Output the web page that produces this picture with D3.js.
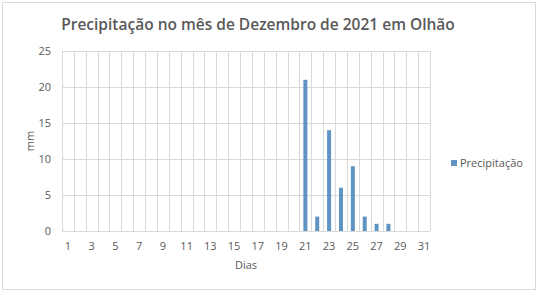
<!DOCTYPE html>
<html>
<head>
<meta charset="utf-8">
<script src="https://cdn.jsdelivr.net/npm/d3@7"></script>
<style>
  body { margin: 0; background: #fff; }
  text { font-family: "Open Sans", "Liberation Sans", sans-serif; fill: #595959; }
</style>
</head>
<body>
<div id="chart"></div>
<script>
// days of December and rainfall in mm
let days = d3.range(1, 32);
let rain = [0, 0, 0, 0, 0, 0, 0, 0, 0, 0, 0, 0, 0, 0, 0, 0, 0, 0, 0, 0,
            21, 2, 14, 6, 9, 2, 1, 1, 0, 0, 0];
let yTicks = [0, 5, 10, 15, 20, 25];
let seriesName = "Precipitação";

let width = 538;
let height = 293;
let plot = { left: 62, right: 430, top: 51, bottom: 231 };

let svg = d3.select("#chart")
  .append("svg")
  .attr("width", width)
  .attr("height", height);

// chart border
svg.append("rect")
  .attr("x", 2.5).attr("y", 2.5)
  .attr("width", 533).attr("height", 287)
  .attr("fill", "#fff")
  .attr("stroke", "#d9d9d9");

let xScale = d3.scaleBand()
  .domain(days)
  .range([plot.left, plot.right]);

let yScale = d3.scaleLinear()
  .domain([0, 25])
  .range([plot.bottom, plot.top]);

// horizontal gridlines
svg.append("g")
  .selectAll("line")
  .data(yTicks)
  .enter()
  .append("line")
  .attr("x1", plot.left).attr("x2", plot.right)
  .attr("y1", d => Math.round(yScale(d)) + 0.5)
  .attr("y2", d => Math.round(yScale(d)) + 0.5)
  .attr("stroke", "#d9d9d9");

// vertical gridlines at category boundaries
svg.append("g")
  .selectAll("line")
  .data(days.concat([32]))
  .enter()
  .append("line")
  .attr("x1", d => Math.round(d > 31 ? plot.right : xScale(d)) + 0.5)
  .attr("x2", d => Math.round(d > 31 ? plot.right : xScale(d)) + 0.5)
  .attr("y1", plot.top)
  .attr("y2", plot.bottom)
  .attr("stroke", "#d9d9d9");

// y tick labels
svg.append("g")
  .selectAll("text")
  .data(yTicks)
  .enter()
  .append("text")
  .attr("x", 51)
  .attr("y", d => yScale(d) + 4)
  .attr("text-anchor", "end")
  .attr("font-size", 11)
  .text(d => d);

// x tick labels, every other day
svg.append("g")
  .selectAll("text")
  .data(days.filter(d => d % 2 === 1))
  .enter()
  .append("text")
  .attr("x", d => xScale(d) + xScale.bandwidth() / 2)
  .attr("y", 250)
  .attr("text-anchor", "middle")
  .attr("font-size", 11)
  .text(d => d);

// bars
let barW = 4;
svg.append("g")
  .selectAll("rect")
  .data(rain)
  .enter()
  .append("rect")
  .attr("x", (d, i) => xScale(days[i]) + xScale.bandwidth() / 2 - barW / 2)
  .attr("y", d => yScale(d))
  .attr("width", barW)
  .attr("height", d => yScale(0) - yScale(d))
  .attr("fill", "#5f94c3");

// title
svg.append("text")
  .attr("x", 258)
  .attr("y", 30)
  .attr("text-anchor", "middle")
  .attr("font-size", 15.5)
  .attr("font-weight", 600)
  .text("Precipitação no mês de Dezembro de 2021 em Olhão");

// axis titles
svg.append("text")
  .attr("x", 246)
  .attr("y", 269)
  .attr("text-anchor", "middle")
  .attr("font-size", 11)
  .text("Dias");

svg.append("text")
  .attr("transform", "translate(34,141)rotate(-90)")
  .attr("text-anchor", "middle")
  .attr("font-size", 11)
  .text("mm");

// legend
svg.append("rect")
  .attr("x", 451).attr("y", 160)
  .attr("width", 6).attr("height", 6)
  .attr("fill", "#5f94c3");

svg.append("text")
  .attr("x", 460)
  .attr("y", 167)
  .attr("font-size", 11)
  .text(seriesName);
</script>
</body>
</html>
